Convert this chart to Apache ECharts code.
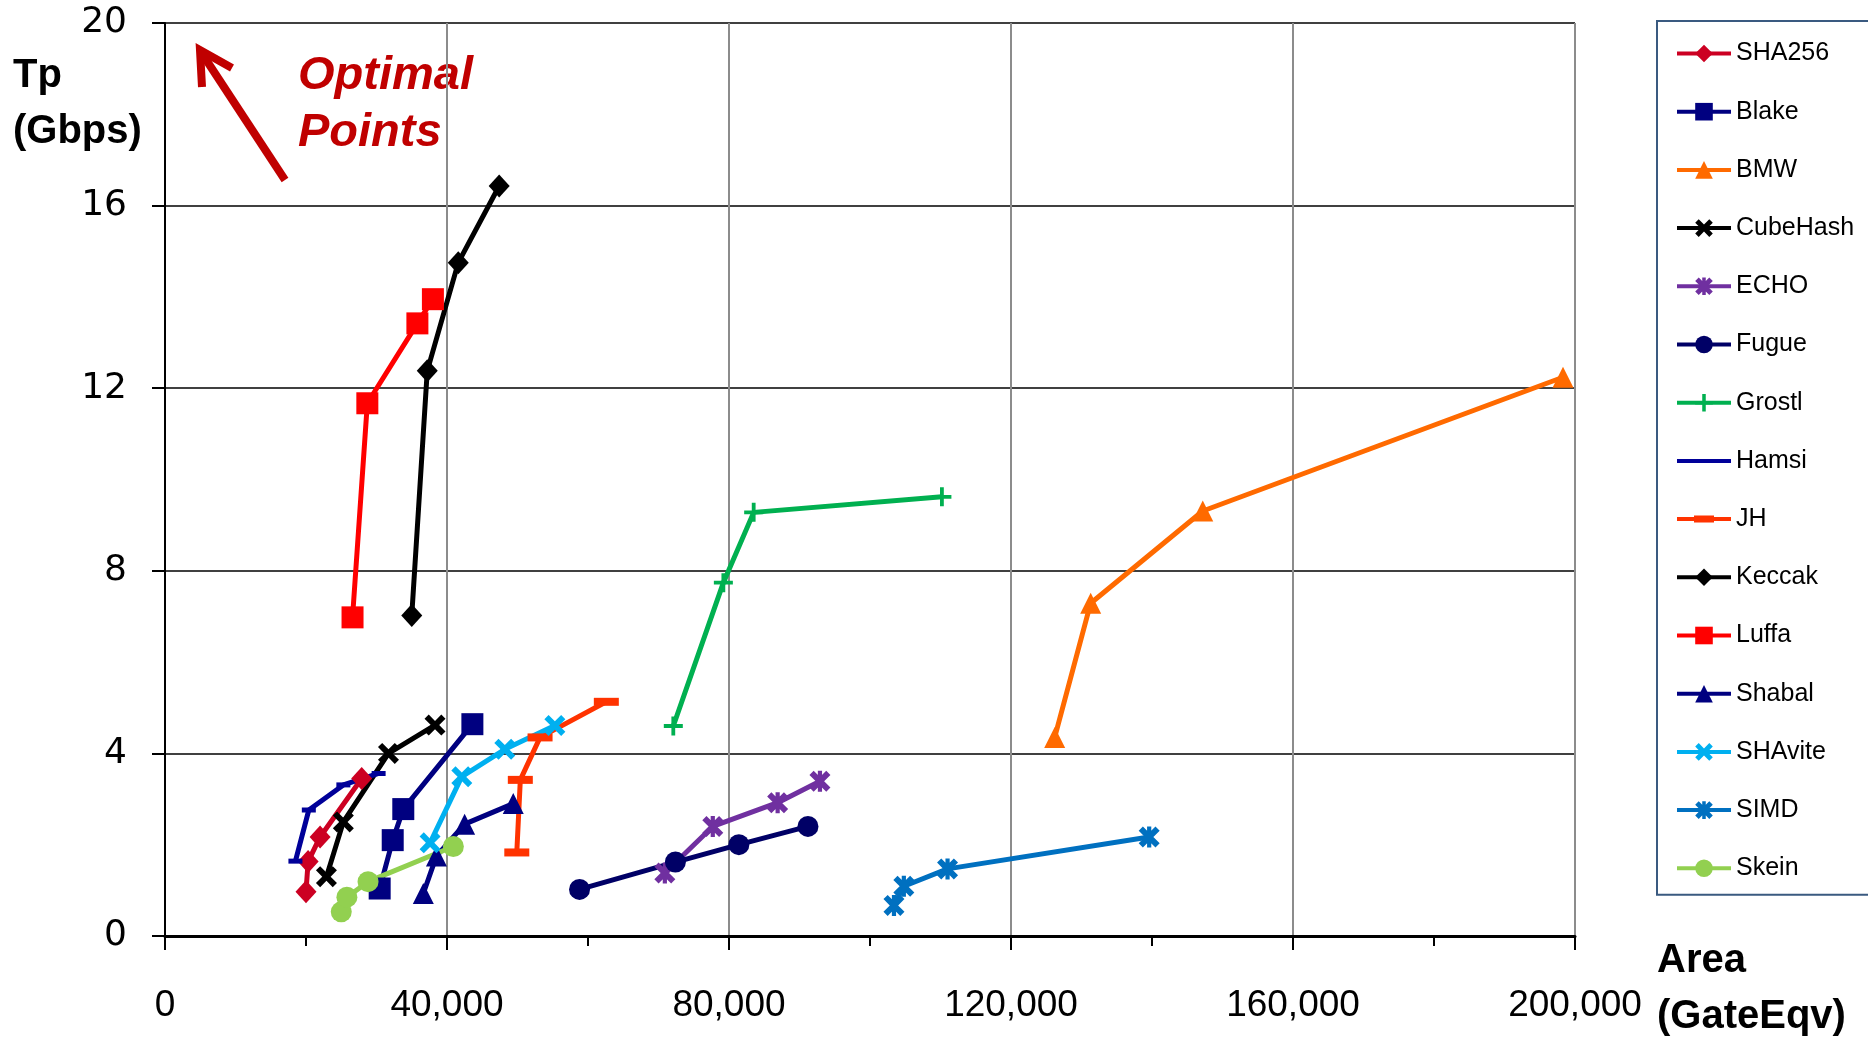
<!DOCTYPE html>
<html><head><meta charset="utf-8">
<script src="https://cdn.jsdelivr.net/npm/echarts@6/dist/echarts.min.js"></script>
<style>html,body{margin:0;padding:0;background:#fff;} #c{width:1868px;height:1041px;}</style>
</head><body><div id="c"></div>
<script>
// ---- data: [Area (GateEqv), Tp (Gbps)] ----
const seriesNames = ['SHA256','Blake','BMW','CubeHash','ECHO','Fugue','Grostl','Hamsi','JH','Keccak','Luffa','Shabal','SHAvite','SIMD','Skein'];
const sha256   = [[20000,0.97],[20300,1.63],[22000,2.17],[27900,3.45]];
const blake    = [[30450,1.04],[32300,2.10],[33800,2.78],[43600,4.64]];
const bmw      = [[126200,4.35],[131300,7.29],[147200,9.31],[198300,12.24]];
const cubehash = [[22900,1.30],[25300,2.50],[31700,4.00],[38300,4.62]];
const echo     = [[70900,1.38],[77700,2.40],[86900,2.92],[92900,3.39]];
const fugue    = [[58800,1.02],[72400,1.62],[81400,2.00],[91200,2.40]];
const grostl   = [[72100,4.60],[79200,7.74],[83500,9.28],[110200,9.62]];
const hamsi    = [[18500,1.64],[20400,2.76],[25300,3.31],[30300,3.56]];
const jh       = [[49900,1.83],[50400,3.42],[53200,4.35],[62600,5.13]];
const keccak   = [[35000,7.02],[37200,12.38],[41600,14.75],[47400,16.43]];
const luffa    = [[26600,6.98],[28700,11.67],[35800,13.42],[38000,13.95]];
const shabal   = [[36640,0.93],[38500,1.75],[42500,2.45],[49400,2.90]];
const shavite  = [[37600,2.04],[42100,3.49],[48200,4.09],[55300,4.61]];
const simd     = [[103400,0.67],[104800,1.09],[111000,1.47],[139600,2.17]];
const skein    = [[25000,0.53],[25800,0.85],[28800,1.19],[40900,1.96]];
const xTicks = {min: 0, max: 200000, interval: 40000};
const yTicks = {min: 0, max: 20, interval: 4};

// ---- marker shapes ----
const X_PATH = 'path://M2,0 L5,3 L8,0 L10,2 L7,5 L10,8 L8,10 L5,7 L2,10 L0,8 L3,5 L0,2 Z';
const STAR_PATH = 'path://M2,0 L5,3 L8,0 L10,2 L7,5 L10,8 L8,10 L5,7 L2,10 L0,8 L3,5 L0,2 Z M4,0 L6,0 L6,10 L4,10 Z';
const PLUS_PATH = 'path://M4,0 L6,0 L6,4 L10,4 L10,6 L6,6 L6,10 L4,10 L4,6 L0,6 L0,4 L4,4 Z';
// legend icon for JH: thin line with a thick dash in the middle (box 54 x 22)
const JH_LEGEND_ICON = 'path://M0,0 L0.01,0 L0,0.01 Z M0,9 L54,9 L54,13 L0,13 Z M17,7.5 L37,7.5 L37,14.5 L17,14.5 Z M54,22 L53.99,22 L54,21.99 Z';

const styleDefs = [
  {data: sha256,   color: '#CC0022', symbol: 'diamond', size: [21,23]},
  {data: blake,    color: '#000080', symbol: 'rect', size: 22},
  {data: bmw,      color: '#FF6A00', symbol: 'triangle', size: 21},
  {data: cubehash, color: '#000000', symbol: X_PATH, size: 21},
  {data: echo,     color: '#7030A0', symbol: STAR_PATH, size: 21},
  {data: fugue,    color: '#000066', symbol: 'circle', size: 21},
  {data: grostl,   color: '#00B050', symbol: PLUS_PATH, size: 19},
  {data: hamsi,    color: '#000099', symbol: 'rect', size: [14,5]},
  {data: jh,       color: '#FF3300', symbol: 'rect', size: [25,8]},
  {data: keccak,   color: '#000000', symbol: 'diamond', size: [21,23]},
  {data: luffa,    color: '#FF0000', symbol: 'rect', size: 22},
  {data: shabal,   color: '#000080', symbol: 'triangle', size: 21},
  {data: shavite,  color: '#00B0F0', symbol: X_PATH, size: 21},
  {data: simd,     color: '#0070C0', symbol: STAR_PATH, size: 21},
  {data: skein,    color: '#92D050', symbol: 'circle', size: 21}
];

const series = styleDefs.map((d, i) => ({
  name: seriesNames[i],
  type: 'line',
  data: d.data,
  symbol: d.symbol,
  symbolSize: d.size,
  showAllSymbol: true,
  lineStyle: {color: d.color, width: 5},
  itemStyle: {color: d.color, borderWidth: 0},
  emphasis: {disabled: true},
  animation: false
}));

const legendData = seriesNames.map(n => {
  if (n === 'Hamsi') return {name: n, itemStyle: {opacity: 0}};
  if (n === 'JH') return {name: n, icon: JH_LEGEND_ICON};
  return {name: n};
});

const chart = echarts.init(document.getElementById('c'), null, {renderer: 'canvas'});
chart.setOption({
  backgroundColor: '#ffffff',
  animation: false,
  grid: {left: 165, right: 293, top: 23, bottom: 105, containLabel: false},
  xAxis: {
    type: 'value', min: xTicks.min, max: xTicks.max, interval: xTicks.interval,
    axisLine: {show: true, onZero: false, lineStyle: {color: '#000', width: 3}},
    axisTick: {show: true, length: 14, lineStyle: {color: '#000', width: 2}},
    minorTick: {show: true, splitNumber: 2, length: 10, lineStyle: {color: '#000', width: 2}},
    splitLine: {show: true, lineStyle: {color: '#8C8C8C', width: 2}},
    axisLabel: {
      margin: 51, fontFamily: 'Liberation Sans', fontSize: 37, color: '#000',
      formatter: v => v.toLocaleString('en-US')
    }
  },
  yAxis: {
    type: 'value', min: yTicks.min, max: yTicks.max, interval: yTicks.interval,
    axisLine: {show: true, lineStyle: {color: '#000', width: 2}},
    axisTick: {show: true, length: 13, lineStyle: {color: '#000', width: 2}},
    splitLine: {show: true, lineStyle: {color: '#000', width: 1.5}},
    axisLabel: {margin: 38, fontFamily: 'DejaVu Sans', fontSize: 36, color: '#000'}
  },
  legend: {
    orient: 'vertical', left: 1657, top: 21,
    padding: [20, 250, 14, 18],
    itemWidth: 54, itemHeight: 22, itemGap: 33.2,
    symbolKeepAspect: true,
    borderColor: '#3A5A80', borderWidth: 2,
    lineStyle: {width: 4},
    data: legendData,
    textStyle: {fontFamily: 'Liberation Sans', fontSize: 25, color: '#000'}
  },
  graphic: [
    {type: 'text', left: 13, top: 48, style: {text: 'Tp\n(Gbps)', font: 'bold 40px "Liberation Sans"', fill: '#000', lineHeight: 56}},
    {type: 'text', left: 298, top: 48, style: {text: 'Optimal\nPoints', font: 'italic bold 47px "Liberation Sans"', fill: '#C00000', lineHeight: 57}},
    {type: 'text', left: 1657, top: 933, style: {text: 'Area\n(GateEqv)', font: 'bold 40px "Liberation Sans"', fill: '#000', lineHeight: 56}},
    {type: 'polyline', shape: {points: [[285,180],[201,52]]}, style: {stroke: '#C00000', lineWidth: 8, lineCap: 'butt'}},
    {type: 'polyline', shape: {points: [[232,68],[200,50],[202,87]]}, style: {stroke: '#C00000', lineWidth: 8, lineJoin: 'miter', fill: null}}
  ],
  series: series
});
</script>
</body></html>
